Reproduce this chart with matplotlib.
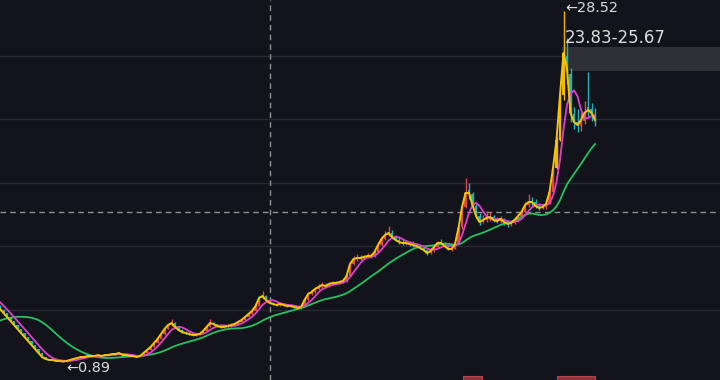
import numpy as np
import pandas as pd
import matplotlib
matplotlib.use("Agg")
import matplotlib.pyplot as plt
from matplotlib.patches import Rectangle

# closes before the visible window (only needed for the moving averages)
pre_close = [2.90, 2.85, 2.95, 3.00, 2.90, 3.05, 3.10, 3.00, 3.10, 3.20,
             3.30, 3.80, 4.40, 5.00, 5.50, 5.90, 6.10, 5.90, 5.60, 5.35]

close = [5.06, 4.75, 4.43, 4.12, 3.80, 3.49, 3.17, 2.86, 2.54, 2.23,
         1.91, 1.60, 1.28, 1.13, 1.05, 1.05, 0.97, 0.97, 0.93, 0.97,
         1.05, 1.13, 1.20, 1.28, 1.28, 1.36, 1.36, 1.36, 1.44, 1.36,
         1.44, 1.44, 1.52, 1.52, 1.60, 1.44, 1.44, 1.36, 1.36, 1.28,
         1.36, 1.60, 1.83, 2.07, 2.39, 2.70, 3.09, 3.49, 3.80, 3.96,
         3.65, 3.41, 3.25, 3.17, 3.09, 3.02, 3.02, 3.09, 3.33, 3.65,
         3.96, 3.88, 3.72, 3.65, 3.65, 3.72, 3.80, 3.88, 4.04, 4.20,
         4.43, 4.67, 4.91, 5.30, 5.93, 6.09, 5.77, 5.54, 5.46, 5.38,
         5.46, 5.38, 5.30, 5.30, 5.22, 5.14, 5.22, 5.77, 6.24, 6.40,
         6.64, 6.80, 6.95, 6.87, 7.03, 7.11, 7.11, 7.19, 7.27, 7.66,
         8.61, 9.00, 9.08, 9.08, 9.16, 9.24, 9.24, 9.55, 10.10, 10.58,
         10.89, 11.05, 10.73, 10.50, 10.34, 10.26, 10.26, 10.18, 10.10, 10.02,
         9.87, 9.71, 9.47, 9.63, 9.95, 10.26, 10.26, 10.02, 9.79, 9.79,
         10.18, 11.44, 13.09, 14.20, 14.20, 13.25, 12.39, 11.91, 12.07, 12.23,
         12.31, 12.07, 11.99, 12.15, 11.91, 11.76, 11.83, 12.07, 12.39, 12.70,
         13.25, 13.49, 13.49, 13.17, 13.02, 13.09, 13.33, 14.28, 16.17, 18.37,
         21.91, 25.22, 24.00, 20.50, 19.79, 19.55, 19.94, 20.50, 20.73, 20.50,
         19.94]

open_ = [5.30, 5.02, 4.72, 4.40, 4.10, 3.78, 3.46, 3.15, 2.84, 2.52,
         2.20, 1.90, 1.58, 1.27, 1.12, 1.03, 1.04, 0.96, 0.97, 0.93,
         0.98, 1.05, 1.12, 1.20, 1.29, 1.28, 1.37, 1.35, 1.36, 1.44,
         1.36, 1.45, 1.44, 1.53, 1.52, 1.58, 1.43, 1.44, 1.35, 1.36,
         1.28, 1.36, 1.60, 1.84, 2.08, 2.40, 2.72, 3.10, 3.50, 3.82,
         3.95, 3.66, 3.40, 3.26, 3.15, 3.10, 3.00, 3.02, 3.10, 3.34,
         3.66, 3.98, 3.86, 3.74, 3.62, 3.64, 3.71, 3.80, 3.87, 4.03,
         4.21, 4.44, 4.66, 4.92, 5.32, 5.90, 6.05, 5.78, 5.52, 5.47,
         5.37, 5.45, 5.40, 5.28, 5.31, 5.22, 5.12, 5.25, 5.78, 6.22,
         6.38, 6.65, 6.82, 6.97, 6.86, 7.02, 7.14, 7.10, 7.18, 7.26,
         7.70, 8.60, 9.02, 9.12, 9.06, 9.15, 9.26, 9.22, 9.56, 10.08,
         10.60, 10.90, 11.02, 10.75, 10.52, 10.33, 10.24, 10.28, 10.16, 10.12,
         10.00, 9.88, 9.70, 9.45, 9.62, 9.96, 10.28, 10.25, 10.00, 9.77,
         9.80, 10.20, 11.50, 13.10, 14.40, 14.10, 13.20, 12.40, 11.90, 12.05,
         12.20, 12.30, 12.05, 11.98, 12.12, 11.90, 11.75, 11.85, 12.05, 12.38,
         12.72, 13.22, 13.55, 13.48, 13.15, 13.00, 13.10, 13.35, 14.30, 16.20,
         18.40, 21.90, 25.00, 23.60, 20.40, 19.80, 19.50, 19.90, 21.00, 20.80,
         20.45]

high = [5.35, 5.08, 4.78, 4.45, 4.15, 3.82, 3.50, 3.18, 2.88, 2.56,
        2.24, 1.93, 1.60, 1.30, 1.15, 1.08, 1.06, 1.00, 0.99, 0.99,
        1.07, 1.15, 1.22, 1.30, 1.32, 1.38, 1.40, 1.39, 1.47, 1.46,
        1.46, 1.48, 1.55, 1.56, 1.66, 1.60, 1.47, 1.46, 1.39, 1.38,
        1.38, 1.63, 1.86, 2.12, 2.45, 2.78, 3.15, 3.58, 3.92, 4.30,
        4.05, 3.75, 3.52, 3.35, 3.22, 3.15, 3.10, 3.15, 3.40, 3.72,
        4.25, 4.05, 3.92, 3.80, 3.75, 3.85, 3.95, 3.98, 4.12, 4.30,
        4.55, 4.80, 5.05, 5.45, 6.10, 6.50, 6.15, 5.85, 5.65, 5.55,
        5.60, 5.52, 5.48, 5.42, 5.38, 5.28, 5.35, 5.90, 6.40, 6.60,
        6.80, 7.00, 7.15, 7.10, 7.20, 7.30, 7.25, 7.35, 7.50, 7.80,
        8.75, 9.25, 9.40, 9.30, 9.35, 9.45, 9.40, 9.70, 10.30, 10.80,
        11.20, 11.62, 11.30, 10.90, 10.70, 10.60, 10.50, 10.40, 10.45, 10.25,
        10.15, 9.95, 9.80, 9.78, 10.10, 10.45, 10.60, 10.35, 10.10, 9.95,
        10.30, 11.60, 13.30, 15.38, 15.00, 14.30, 13.40, 12.60, 12.50, 12.80,
        12.70, 12.45, 12.30, 12.40, 12.25, 12.05, 12.00, 12.20, 12.55, 12.90,
        13.45, 14.10, 13.90, 13.70, 13.40, 13.35, 13.60, 14.50, 16.40, 18.60,
        22.10, 28.52, 26.40, 24.00, 21.00, 20.80, 20.60, 21.40, 23.72, 21.30,
        20.90]

low = [5.00, 4.70, 4.40, 4.08, 3.76, 3.45, 3.14, 2.83, 2.52, 2.20,
       1.89, 1.58, 1.26, 1.11, 1.03, 1.01, 0.95, 0.94, 0.89, 0.92,
       0.97, 1.04, 1.11, 1.19, 1.25, 1.27, 1.33, 1.33, 1.35, 1.34,
       1.35, 1.41, 1.43, 1.49, 1.51, 1.42, 1.41, 1.34, 1.33, 1.26,
       1.27, 1.35, 1.58, 1.82, 2.05, 2.36, 2.68, 3.05, 3.45, 3.75,
       3.60, 3.36, 3.20, 3.10, 3.02, 2.96, 2.95, 2.98, 3.06, 3.30,
       3.62, 3.80, 3.66, 3.58, 3.57, 3.60, 3.68, 3.76, 3.84, 4.00,
       4.18, 4.40, 4.62, 4.88, 5.28, 5.85, 5.70, 5.45, 5.40, 5.30,
       5.33, 5.30, 5.22, 5.20, 5.15, 5.05, 5.08, 5.20, 5.72, 6.15,
       6.32, 6.58, 6.75, 6.78, 6.80, 6.95, 7.00, 7.05, 7.12, 7.20,
       7.65, 8.50, 8.85, 8.90, 8.95, 9.05, 9.08, 9.15, 9.50, 10.00,
       10.50, 10.80, 10.60, 10.40, 10.20, 10.10, 10.10, 10.05, 9.98, 9.90,
       9.75, 9.60, 9.35, 9.40, 9.55, 9.90, 10.10, 9.92, 9.70, 9.65,
       9.75, 10.15, 11.40, 13.00, 13.70, 13.00, 12.20, 11.70, 11.80, 11.95,
       12.00, 11.90, 11.80, 11.85, 11.70, 11.55, 11.60, 11.75, 11.95, 12.25,
       12.65, 13.10, 13.20, 13.00, 12.85, 12.90, 12.95, 13.30, 14.25, 16.10,
       18.30, 21.50, 22.80, 19.80, 19.20, 19.00, 19.10, 19.60, 20.10, 19.90,
       19.50]

gold_bars = [159, 160, 161]       # limit-up days drawn in gold
low_bar, low_price = 18, 0.89
high_bar, high_price = 161, 28.52
band_lo, band_hi = 23.83, 25.67
cross_bar, cross_price = 77, 12.70

BG = '#13141b'
GRID = '#272930'
UP = '#e0474c'
DOWN = '#22b2bc'
GOLD = '#f2b705'
YELLOW = '#f7c600'
MAGENTA = '#df3fcf'
GREEN = '#25c25f'
TXT = '#dcdcdc'


def main():
    plt.rcParams['font.family'] = ['DejaVu Sans']
    n = len(close)
    x = np.arange(n)
    all_close = pd.Series(pre_close + close)
    x_all = np.arange(-len(pre_close), n)
    ma5 = all_close.rolling(5).mean()
    ma20 = all_close.rolling(20).mean()

    fig = plt.figure(figsize=(7.2, 3.8), dpi=100, facecolor=BG)
    ax = fig.add_axes([0, 0, 1, 1])
    ax.set_facecolor(BG)
    ax.set_xlim(0, 720 / 3.5)
    ax.set_ylim(-0.527, 29.39)
    ax.axis('off')

    # price grid every 5
    for p in [5, 10, 15, 20, 25]:
        ax.axhline(p, color=GRID, lw=1.0, zorder=0)

    # highlighted price band
    ax.add_patch(Rectangle((high_bar - 0.3, band_lo), 300, band_hi - band_lo,
                           facecolor='#2f3036', edgecolor='none', zorder=1))
    ax.text(high_bar + 0.3, band_hi, '23.83-25.67', color=TXT, fontsize=12,
            ha='left', va='bottom', zorder=6)

    # crosshair
    ax.axvline(cross_bar, color='#8f8f8f', lw=1.0, ls=(0, (4, 3)), zorder=2)
    ax.axhline(cross_price, color='#8f8f8f', lw=1.0, ls=(0, (4, 3)), zorder=2)

    # candles
    o = np.array(open_)
    c = np.array(close)
    h = np.array(high)
    lo = np.array(low)
    colors = np.where(c >= o, UP, DOWN).astype(object)
    for i in gold_bars:
        colors[i] = GOLD
    ax.vlines(x, lo, h, colors=list(colors), lw=1.0, zorder=3)
    body_bottom = np.minimum(o, c)
    body_h = np.maximum(np.abs(c - o), 0.05)
    ax.bar(x, body_h, bottom=body_bottom, width=0.65, color=list(colors),
           linewidth=0, zorder=3)

    # lines
    ax.plot(x_all, ma20, color=GREEN, lw=1.3, zorder=4)
    ax.plot(x_all, ma5, color=MAGENTA, lw=1.3, zorder=4)
    ax.plot(x_all, all_close, color=YELLOW, lw=1.4, zorder=5)

    # extreme markers
    ax.annotate('\u2190' + f'{high_price:.2f}', (high_bar, high_price),
                xytext=(1.0, 2), textcoords='offset points', color=TXT,
                fontsize=10.4, ha='left', va='center', zorder=6)
    ax.annotate('\u2190' + f'{low_price:.2f}', (low_bar, low_price),
                xytext=(2, -4.5), textcoords='offset points', color=TXT,
                fontsize=10.4, ha='left', va='center', zorder=6)

    # event tags cut off at the bottom edge
    for xc, w in [(135, 5.7), (164.5, 10.9)]:
        ax.add_patch(Rectangle((xc - w / 2, -1.5), w, 1.29, facecolor='#8e3339',
                               edgecolor='#b2474d', lw=0.8, zorder=6))

    fig.savefig('out.png', dpi=100, facecolor=BG)


if __name__ == '__main__':
    main()
